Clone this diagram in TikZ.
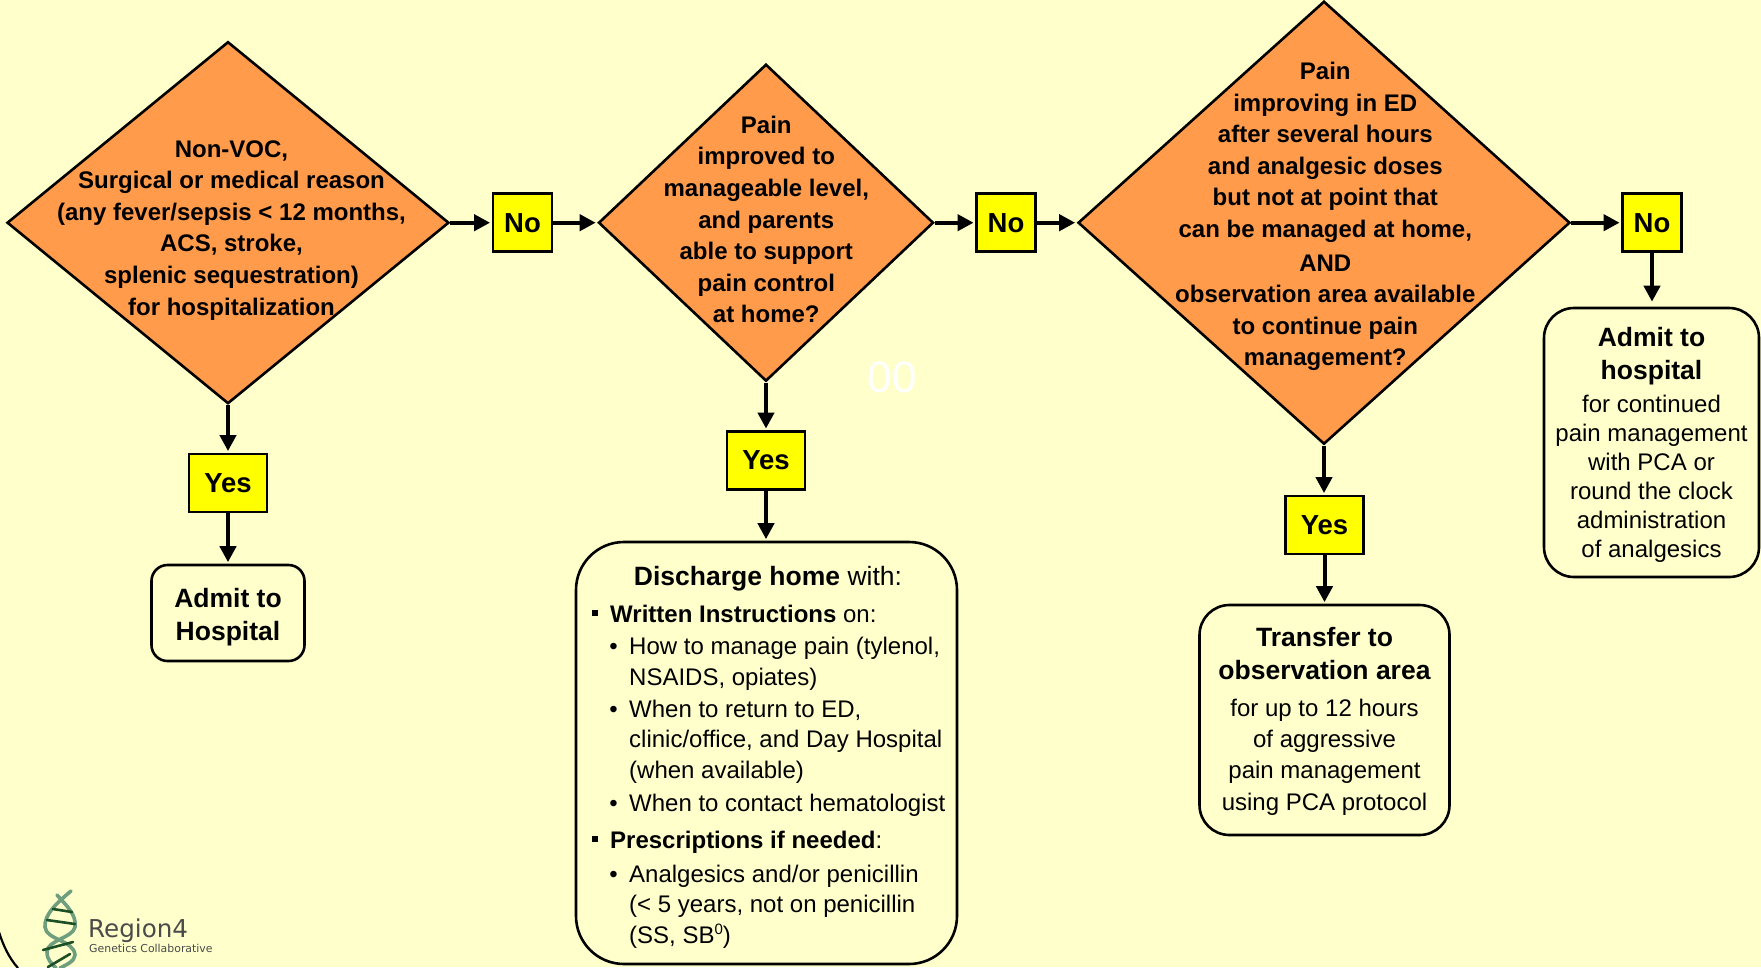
\documentclass[tikz,border=0pt]{standalone}
\usepackage{fontspec}
\setmainfont{Liberation Sans}
\newfontfamily\logofont{DejaVu Sans}
\usetikzlibrary{shapes.geometric,arrows.meta}
\definecolor{orange1}{HTML}{FF9B4B}
\definecolor{bgcol}{HTML}{FFFFCC}
\definecolor{pureyellow}{HTML}{FFFF00}
\definecolor{strandcol}{HTML}{6F9E7E}
\definecolor{rungcol}{HTML}{1C4F24}
\definecolor{logotext}{HTML}{4A4A4A}
\tikzset{
  dec/.style={diamond,draw=black,line width=2.6pt,fill=orange1,inner sep=0pt,aspect=1.2},
  dtext/.style={align=center,font=\fontsize{24}{31.6}\selectfont\bfseries,inner sep=0pt},
  ans/.style={draw=black,line width=2.8pt,fill=pureyellow,font=\fontsize{27.5}{30}\selectfont\bfseries,inner sep=0pt},
  term/.style={draw=black,line width=2.6pt,fill=none,inner sep=0pt},
  ttl/.style={align=center,font=\fontsize{26.5}{33}\selectfont\bfseries,inner sep=0pt},
  body/.style={align=center,font=\fontsize{24}{29}\selectfont,inner sep=0pt},
  ln/.style={anchor=base west,font=\fontsize{24}{29}\selectfont,inner sep=0pt},
  blt/.style={anchor=base,font=\fontsize{24}{29}\selectfont,inner sep=0pt},
  conn/.style={line width=4pt,-{Triangle[length=16pt,width=16pt]},shorten >=1.5pt},
  strandA/.style={draw=strandcol,line width=3.6pt,line cap=round},
  rung/.style={draw=rungcol,line width=2.6pt,line cap=round}
}
\begin{document}
\begin{tikzpicture}[x=1pt,y=-1pt]
\useasboundingbox (0,0) rectangle (1761,967);
\fill[bgcol] (0,0) rectangle (1761,967);
% diamonds
\node[dec,minimum width=442pt,minimum height=362pt] (d1) at (228,222.7) {};
\node[dec,minimum width=335pt,minimum height=317pt] (d2) at (766,222.7) {};
\node[dec,minimum width=492pt,minimum height=443pt] (d3) at (1324,222.7) {};
\node[dtext] (t1) at (231.5,230.3) {Non-VOC,\\Surgical or medical reason\\(any fever/sepsis < 12 months,\\ACS, stroke,\\splenic sequestration)\\for hospitalization};
\node[dtext] (t2) at (766.3,219.5) {Pain\\improved to\\manageable level,\\and parents\\able to support\\pain control\\at home?};
\node[dtext] (t3) at (1325.3,216.5) {Pain\\improving in ED\\after several hours\\and analgesic doses\\but not at point that\\can be managed at home,\\[2pt]AND\\observation area available\\to continue pain\\management?};
% answers
\node[ans,minimum width=59pt,minimum height=58pt] (no1) at (522.5,222.7) {No};
\node[ans,minimum width=59pt,minimum height=58pt] (no2) at (1006,222.7) {No};
\node[ans,minimum width=59pt,minimum height=58pt] (no3) at (1652,222.7) {No};
\node[ans,minimum width=78pt,minimum height=58pt] (y1) at (228,483) {Yes};
\node[ans,minimum width=78pt,minimum height=58pt] (y2) at (766,460.5) {Yes};
\node[ans,minimum width=78pt,minimum height=58pt] (y3) at (1324.5,525) {Yes};
% terminals
\node[term,minimum width=153pt,minimum height=96pt,rounded corners=16pt] (a1) at (228,613) {};
\node[ttl] (a1t) at (228,617.5) {Admit to\\Hospital};
\node[term,minimum width=381pt,minimum height=422pt,rounded corners=48pt] (dh) at (766.5,753) {};
\node[term,minimum width=250pt,minimum height=230pt,rounded corners=30pt] (tr) at (1324.5,720) {};
\node[ttl] (trt) at (1324.5,653.5) {Transfer to\\observation area};
\node[body,font=\fontsize{24}{31.4}\selectfont] (trb) at (1324.5,757) {for up to 12 hours\\of aggressive\\pain management\\using PCA protocol};
\node[term,minimum width=215pt,minimum height=269pt,rounded corners=30pt] (a2) at (1651.5,442.5) {};
\node[ttl] (a2t) at (1651.5,356.5) {Admit to\\hospital};
\node[body] (a2b) at (1651.5,478.5) {for continued\\pain management\\with PCA or\\round the clock\\administration\\of analgesics};
% discharge text
\node[anchor=base,inner sep=0pt,font=\fontsize{26.5}{30}\selectfont] (h0) at (768,585) {\textbf{Discharge home} with:};
\node[blt] (b1) at (595,622) {\rule[6pt]{6pt}{6pt}};
\node[ln] (l1) at (610,622) {\textbf{Written Instructions} on:};
\node[blt] (b2) at (613.5,654) {•};
\node[ln] (l2) at (629,654) {How to manage pain (tylenol,};
\node[ln] (l3) at (629,685) {NSAIDS, opiates)};
\node[blt] (b3) at (613.5,717) {•};
\node[ln] (l4) at (629,717.5) {When to return to ED,};
\node[ln] (l5) at (629,747.5) {clinic/office, and Day Hospital};
\node[ln] (l6) at (629,778) {(when available)};
\node[blt] (b4) at (613.5,811) {•};
\node[ln] (l7) at (629,811) {When to contact hematologist};
\node[blt] (b5) at (595,848) {\rule[6pt]{6pt}{6pt}};
\node[ln] (l8) at (610,848.5) {\textbf{Prescriptions if needed}:};
\node[blt] (b6) at (613.5,882) {•};
\node[ln] (l9) at (629,882) {Analgesics and/or penicillin};
\node[ln] (l10) at (629,912) {(< 5 years, not on penicillin};
\node[ln] (l11) at (629,943) {(SS, SB\raisebox{9pt}{\fontsize{15}{15}\selectfont 0})};
% stray white text
\node[white,inner sep=0pt,font=\fontsize{44}{44}\selectfont] (w) at (892,377) {00};
% connectors
\draw[conn] (d1.east) -- (no1.west);
\draw[conn] (no1.east) -- (d2.west);
\draw[conn] (d2.east) -- (no2.west);
\draw[conn] (no2.east) -- (d3.west);
\draw[conn] (d3.east) -- (no3.west);
\draw[conn,shorten >=5pt] (no3.south) -- (no3.south |- a2.north);
\draw[conn] (d1.south) -- (y1.north);
\draw[conn] (y1.south) -- (a1.north);
\draw[conn] (d2.south) -- (y2.north);
\draw[conn] (y2.south) -- (y2.south |- dh.north);
\draw[conn] (d3.south) -- (d3.south |- y3.north);
\draw[conn] (y3.south) -- (tr.north);
% corner arc
\draw[black,line width=2.2pt] (-1,932) .. controls (3,945) and (9,958) .. (18,968);
% logo
\draw[strandA] (71,891) .. controls (58,902) and (44,914) .. (45,927) .. controls (46,940) and (74,940) .. (75,955) .. controls (75,961) and (66,965) .. (60,968);
\draw[strandA] (57,895) .. controls (66,905) and (77,915) .. (75,927) .. controls (73,938) and (47,940) .. (47,952) .. controls (47,960) and (52,964) .. (56,968);
\draw[rung] (53,909) -- (72,912);
\draw[rung] (47,920) -- (75,924);
\draw[rung] (43,950) -- (73,942);
\draw[rung] (48,967) -- (70,954);
\node[anchor=base west,inner sep=0pt,text=logotext,font=\logofont\fontsize{24.6}{24}\selectfont] (r4) at (88,937) {Region4};
\node[anchor=base west,inner sep=0pt,text=logotext,font=\logofont\fontsize{10.9}{12}\selectfont] (gc) at (89,952) {Genetics Collaborative};
\end{tikzpicture}
\end{document}
